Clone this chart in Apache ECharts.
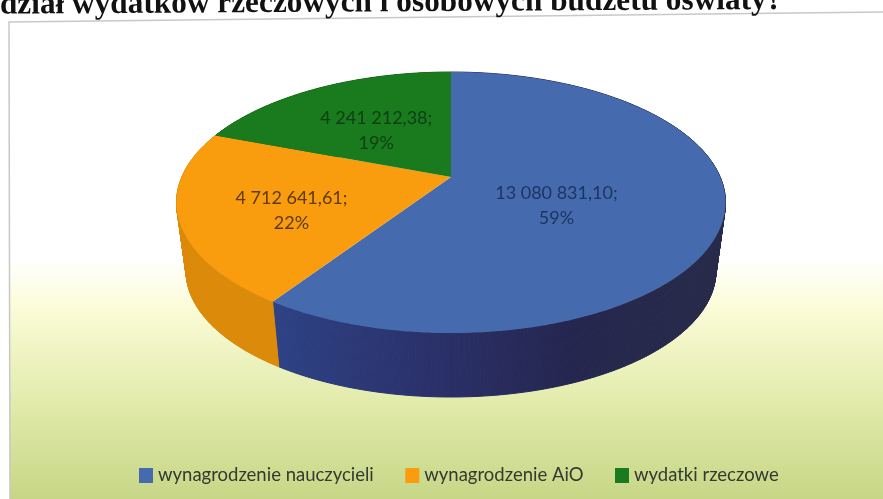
<!DOCTYPE html>
<html>
<head>
<meta charset="utf-8">
<script src="https://cdn.jsdelivr.net/npm/echarts@6/dist/echarts.min.js"></script>
<style>
	html, body { margin: 0; padding: 0; background: #fff; }
	#main { width: 883px; height: 499px; filter: blur(0.6px); }
</style>
</head>
<body>
<div id="main"></div>
<script>
	var titleText = 'dział wydatków rzeczowych i osobowych budżetu oświaty?';
	var categories = ['wynagrodzenie nauczycieli', 'wynagrodzenie AiO', 'wydatki rzeczowe'];
	var values = [13080831.10, 4712641.61, 4241212.38];
	var valueLabels = ['13 080 831,10;', '4 712 641,61;', '4 241 212,38;'];
	var percentLabels = ['59%', '22%', '19%'];

	var topColors = ['#466aae', '#f99c0e', '#1a7a1e'];
	var labelColors = ['#1c3563', '#5c3b10', '#0d4013'];
	var labelRadius = [0.4, 0.6, 0.53];
	var labelShift = [14, 10, 4];

	// 透视椭圆参数: 顶面圆心在 (451,177), 前后不对称
	var cx = 451, cy = 177, ax = 269.2, ay = 125.5, persp = -0.1954;
	var depth = 69.5, bottomScale = 0.965;

	var total = values.reduce(function (a, b) { return a + b; }, 0);

	function project(angle, r, lower) {
		var u = r * Math.sin(angle), v = -r * Math.cos(angle);
		var d = 1 + persp * v;
		var x = ax * u / d, y = ay * v / d;
		if (lower) {
			return [cx + x * bottomScale, cy + depth + y * bottomScale];
		}
		return [cx + x, cy + y];
	}

	function arcPoints(start, end, lower) {
		var pts = [], n = Math.ceil((end - start) / 0.01);
		for (var i = 0; i <= n; i++) {
			pts.push(project(start + (end - start) * i / n, 1, lower));
		}
		return pts;
	}

	function sideFill(index) {
		if (index === 0) {
			return new echarts.graphic.LinearGradient(280, 0, 725, 0, [
				{offset: 0, color: '#2d4184'},
				{offset: 0.35, color: '#2a3069'},
				{offset: 0.65, color: '#25264f'},
				{offset: 1, color: '#272a48'}
			], true);
		}
		return index === 1 ? '#dc8a0a' : '#146018';
	}

	function makeRender(index) {
		var before = 0;
		for (var i = 0; i < index; i++) { before += values[i]; }
		var start = before / total * 2 * Math.PI;
		var end = (before + values[index]) / total * 2 * Math.PI;
		return function () {
			var rim = arcPoints(start, end, false);
			var low = arcPoints(start, end, true);
			var mid = project((start + end) / 2, labelRadius[index], false);
			var fill = sideFill(index);
			var children = [];
			// 侧面用小四边形拼接, 这样左右轮廓才是切线
			for (var k = 0; k < rim.length - 1; k++) {
				children.push({
					type: 'polygon', z2: 1,
					shape: {points: [rim[k], rim[k + 1], low[k + 1], low[k]]},
					style: {fill: fill, stroke: fill, lineWidth: 1}
				});
			}
			children.push({
				type: 'polygon', z2: 2,
				shape: {points: [[cx, cy]].concat(rim)},
				style: {fill: topColors[index]}
			});
			children.push({
				type: 'text', z2: 3,
				x: mid[0], y: mid[1] + labelShift[index],
				style: {
					text: valueLabels[index] + '\n' + percentLabels[index],
					fill: labelColors[index],
					font: '18px Lato',
					lineHeight: 25,
					align: 'center',
					verticalAlign: 'middle'
				}
			});
			return {type: 'group', children: children};
		};
	}

	var myChart = echarts.init(document.getElementById('main'));
	var series = [];
	for (var s = 0; s < categories.length; s++) {
		series.push({
			name: categories[s],
			type: 'custom',
			coordinateSystem: 'none',
			animation: false,
			silent: true,
			itemStyle: {color: topColors[s]},
			renderItem: makeRender(s),
			data: [values[s]]
		});
	}

	var option = {
		animation: false,
		backgroundColor: '#ffffff',
		legend: {
			data: categories,
			left: 134,
			top: 461,
			icon: 'rect',
			itemWidth: 14,
			itemHeight: 15,
			itemGap: 31.5,
			textStyle: {color: '#333a30', fontFamily: 'Lato', fontSize: 18.5}
		},
		graphic: [
			{
				type: 'polygon', silent: true, z: -1,
				shape: {points: [[9, 22], [890, 12], [890, 510], [10, 510]]},
				style: {
					fill: new echarts.graphic.LinearGradient(0, 258, 0, 499, [
						{offset: 0, color: '#ffffff'},
						{offset: 0.2, color: '#fbfcd8'},
						{offset: 0.6, color: '#e2ebab'},
						{offset: 1, color: '#c6d686'}
					], true),
					stroke: '#c8c8c8',
					lineWidth: 1.5
				}
			},
			{
				type: 'text', silent: true,
				x: 0, y: 21, rotation: 0.006,
				style: {
					text: titleText,
					font: 'bold 31.3px "Liberation Serif"',
					fill: '#111',
					verticalAlign: 'bottom'
				}
			}
		],
		series: series
	};
	myChart.setOption(option);
</script>
</body>
</html>
